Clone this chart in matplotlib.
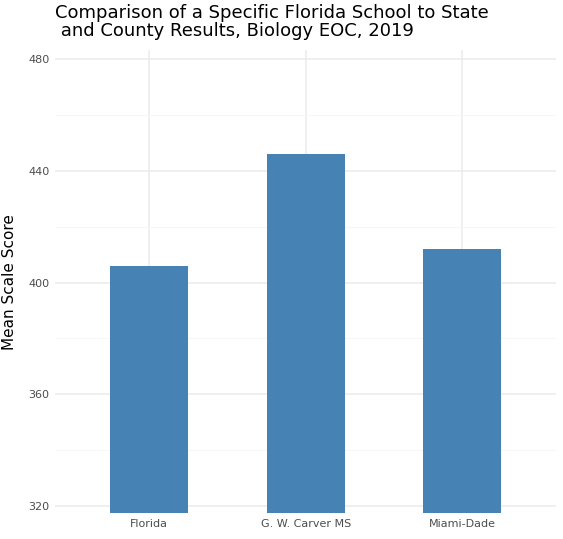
import matplotlib
matplotlib.use('Agg')
import matplotlib.pyplot as plt
import numpy as np

schools = ['Florida', 'G. W. Carver MS', 'Miami-Dade']
scores = [406, 446, 412]

fig = plt.figure(figsize=(5.63, 5.39), dpi=100)
ax = fig.add_axes([0.098, 0.048, 0.89, 0.859])

x = np.arange(1, len(schools) + 1)
ax.bar(x, scores, width=0.5, color='#4682B4', zorder=3)

ax.set_xlim(0.4, 3.6)
ax.set_ylim(317.5, 483.2)
ax.set_yticks([320, 360, 400, 440, 480])
ax.set_yticks([340, 380, 420, 460], minor=True)
ax.set_xticks(x)
ax.set_xticklabels(schools)

ax.grid(which='major', color='#EBEBEB', lw=1.1, zorder=0)
ax.grid(which='minor', axis='y', color='#F5F5F5', lw=0.6, zorder=0)
for s in ax.spines.values():
    s.set_visible(False)
ax.tick_params(which='both', length=0, labelsize=8, colors='#4D4D4D', pad=4)

ax.set_ylabel('Mean Scale Score', fontsize=11, color='black', labelpad=8)
fig.text(0.098, 0.925, 'Comparison of a Specific Florida School to State\n and County Results, Biology EOC, 2019',
         fontsize=13, ha='left', va='bottom', linespacing=1.0)

fig.savefig('out.png', dpi=100)
